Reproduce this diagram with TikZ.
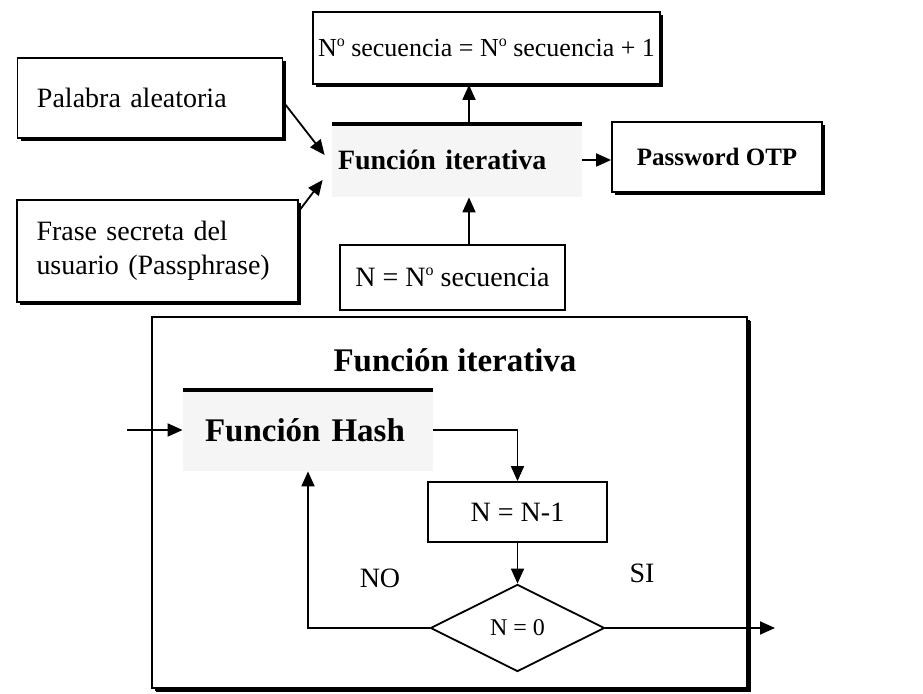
\documentclass[tikz,border=0pt]{standalone}
\usepackage{fontspec}
\setmainfont{Liberation Serif}
\usetikzlibrary{shapes.geometric,shadows,arrows.meta}

\newcommand\numo{N\raisebox{0.85ex}{\fontsize{8}{8}\selectfont o}}

\tikzset{
  box/.style={draw, fill=white, line width=0.9pt, inner sep=0pt, font=\fontsize{14}{17}\selectfont},
  shbox/.style={box, drop shadow={shadow xshift=1.6pt, shadow yshift=-1.6pt, opacity=1, fill=black}},
  hatched/.style={fill=black!4, inner sep=0pt, align=left,
    path picture={\draw[line width=3pt] (path picture bounding box.north west) -- (path picture bounding box.north east);}},
  arr/.style={-{Triangle[length=7.5pt,width=6.5pt]}, line width=0.9pt},
  lab/.style={font=\fontsize{14}{17}\selectfont}
}

\begin{document}
\begin{tikzpicture}[x=0.5pt,y=-0.5pt]
        \useasboundingbox (0,0) rectangle (923,694);

        % Draw nodes (upper part)
        \node[shbox, minimum width=132.5pt, minimum height=40pt, text width=113pt, align=left] (palabra) at (150,98) {Palabra aleatoria};
        \node[shbox, minimum width=140.5pt, minimum height=51pt, text width=121pt, align=left] (frase) at (157.5,251) {Frase secreta del\\usuario (Passphrase)};
        \node[shbox, minimum width=173.5pt, minimum height=36pt, font=\fontsize{13}{16}\selectfont] (seq) at (486.5,48) {\numo{} secuencia = \numo{} secuencia + 1};
        \node[hatched, minimum width=125pt, minimum height=37pt, text width=119pt, font=\bfseries\fontsize{14}{17}\selectfont] (fiter) at (457,160) {Función iterativa};
        \node[shbox, minimum width=105pt, minimum height=35pt, font=\bfseries\fontsize{12.5}{15}\selectfont] (otp) at (717,157) {Password OTP};
        \node[box, minimum width=112.5pt, minimum height=32.5pt] (nseq) at (452.5,277.5) {N = \numo{} secuencia};

        % Draw nodes (lower part)
        \node[shbox, draw, minimum width=297.5pt, minimum height=185.5pt, drop shadow={shadow xshift=2pt, shadow yshift=-2pt, opacity=1, fill=black}] (outer) at (449.5,502.5) {};
        \node[font=\bfseries\fontsize{16.5}{20}\selectfont] (ftitle) at (455,360) {Función iterativa};
        \node[hatched, minimum width=125pt, minimum height=41pt, text width=103pt, font=\bfseries\fontsize{16.5}{20}\selectfont] (hash) at (308,430) {Función Hash};
        \node[box, minimum width=89.5pt, minimum height=30pt] (nn1) at (517.5,512) {N = N-1};
        \node[box, diamond, aspect=2, minimum width=87pt, minimum height=43.5pt, font=\fontsize{12}{14}\selectfont] (dz) at (517.5,628) {N = 0};
        \node[lab] (no) at (380,578) {NO};
        \node[lab] (si) at (642,573) {SI};
        \coordinate (in) at (127,430);
        \coordinate (out) at (775,628);

        % Draw connections
        \draw[arr] ([yshift=-2pt]palabra.east) -- ([xshift=-3.5pt,yshift=2.5pt]fiter.west);
        \draw[arr] ([yshift=-6pt]frase.north east) -- ([xshift=-4.5pt,yshift=-10pt]fiter.west);
        \draw[arr] ([xshift=6pt]fiter.north) -- ([xshift=6pt]fiter.north |- seq.south);
        \draw[arr] ([xshift=6pt]fiter.south |- nseq.north) -- ([xshift=6pt]fiter.south);
        \draw[arr] (fiter.east) -- (fiter.east -| otp.west);
        \draw[arr] (in) -- (hash.west);
        \draw[arr] (hash.east) -| (nn1.north);
        \draw[arr] (nn1.south) -- (dz.north);
        \draw[arr] (dz.west) -| (hash.south);
        \draw[arr] (dz.east) -- (out);
\end{tikzpicture}
\end{document}
